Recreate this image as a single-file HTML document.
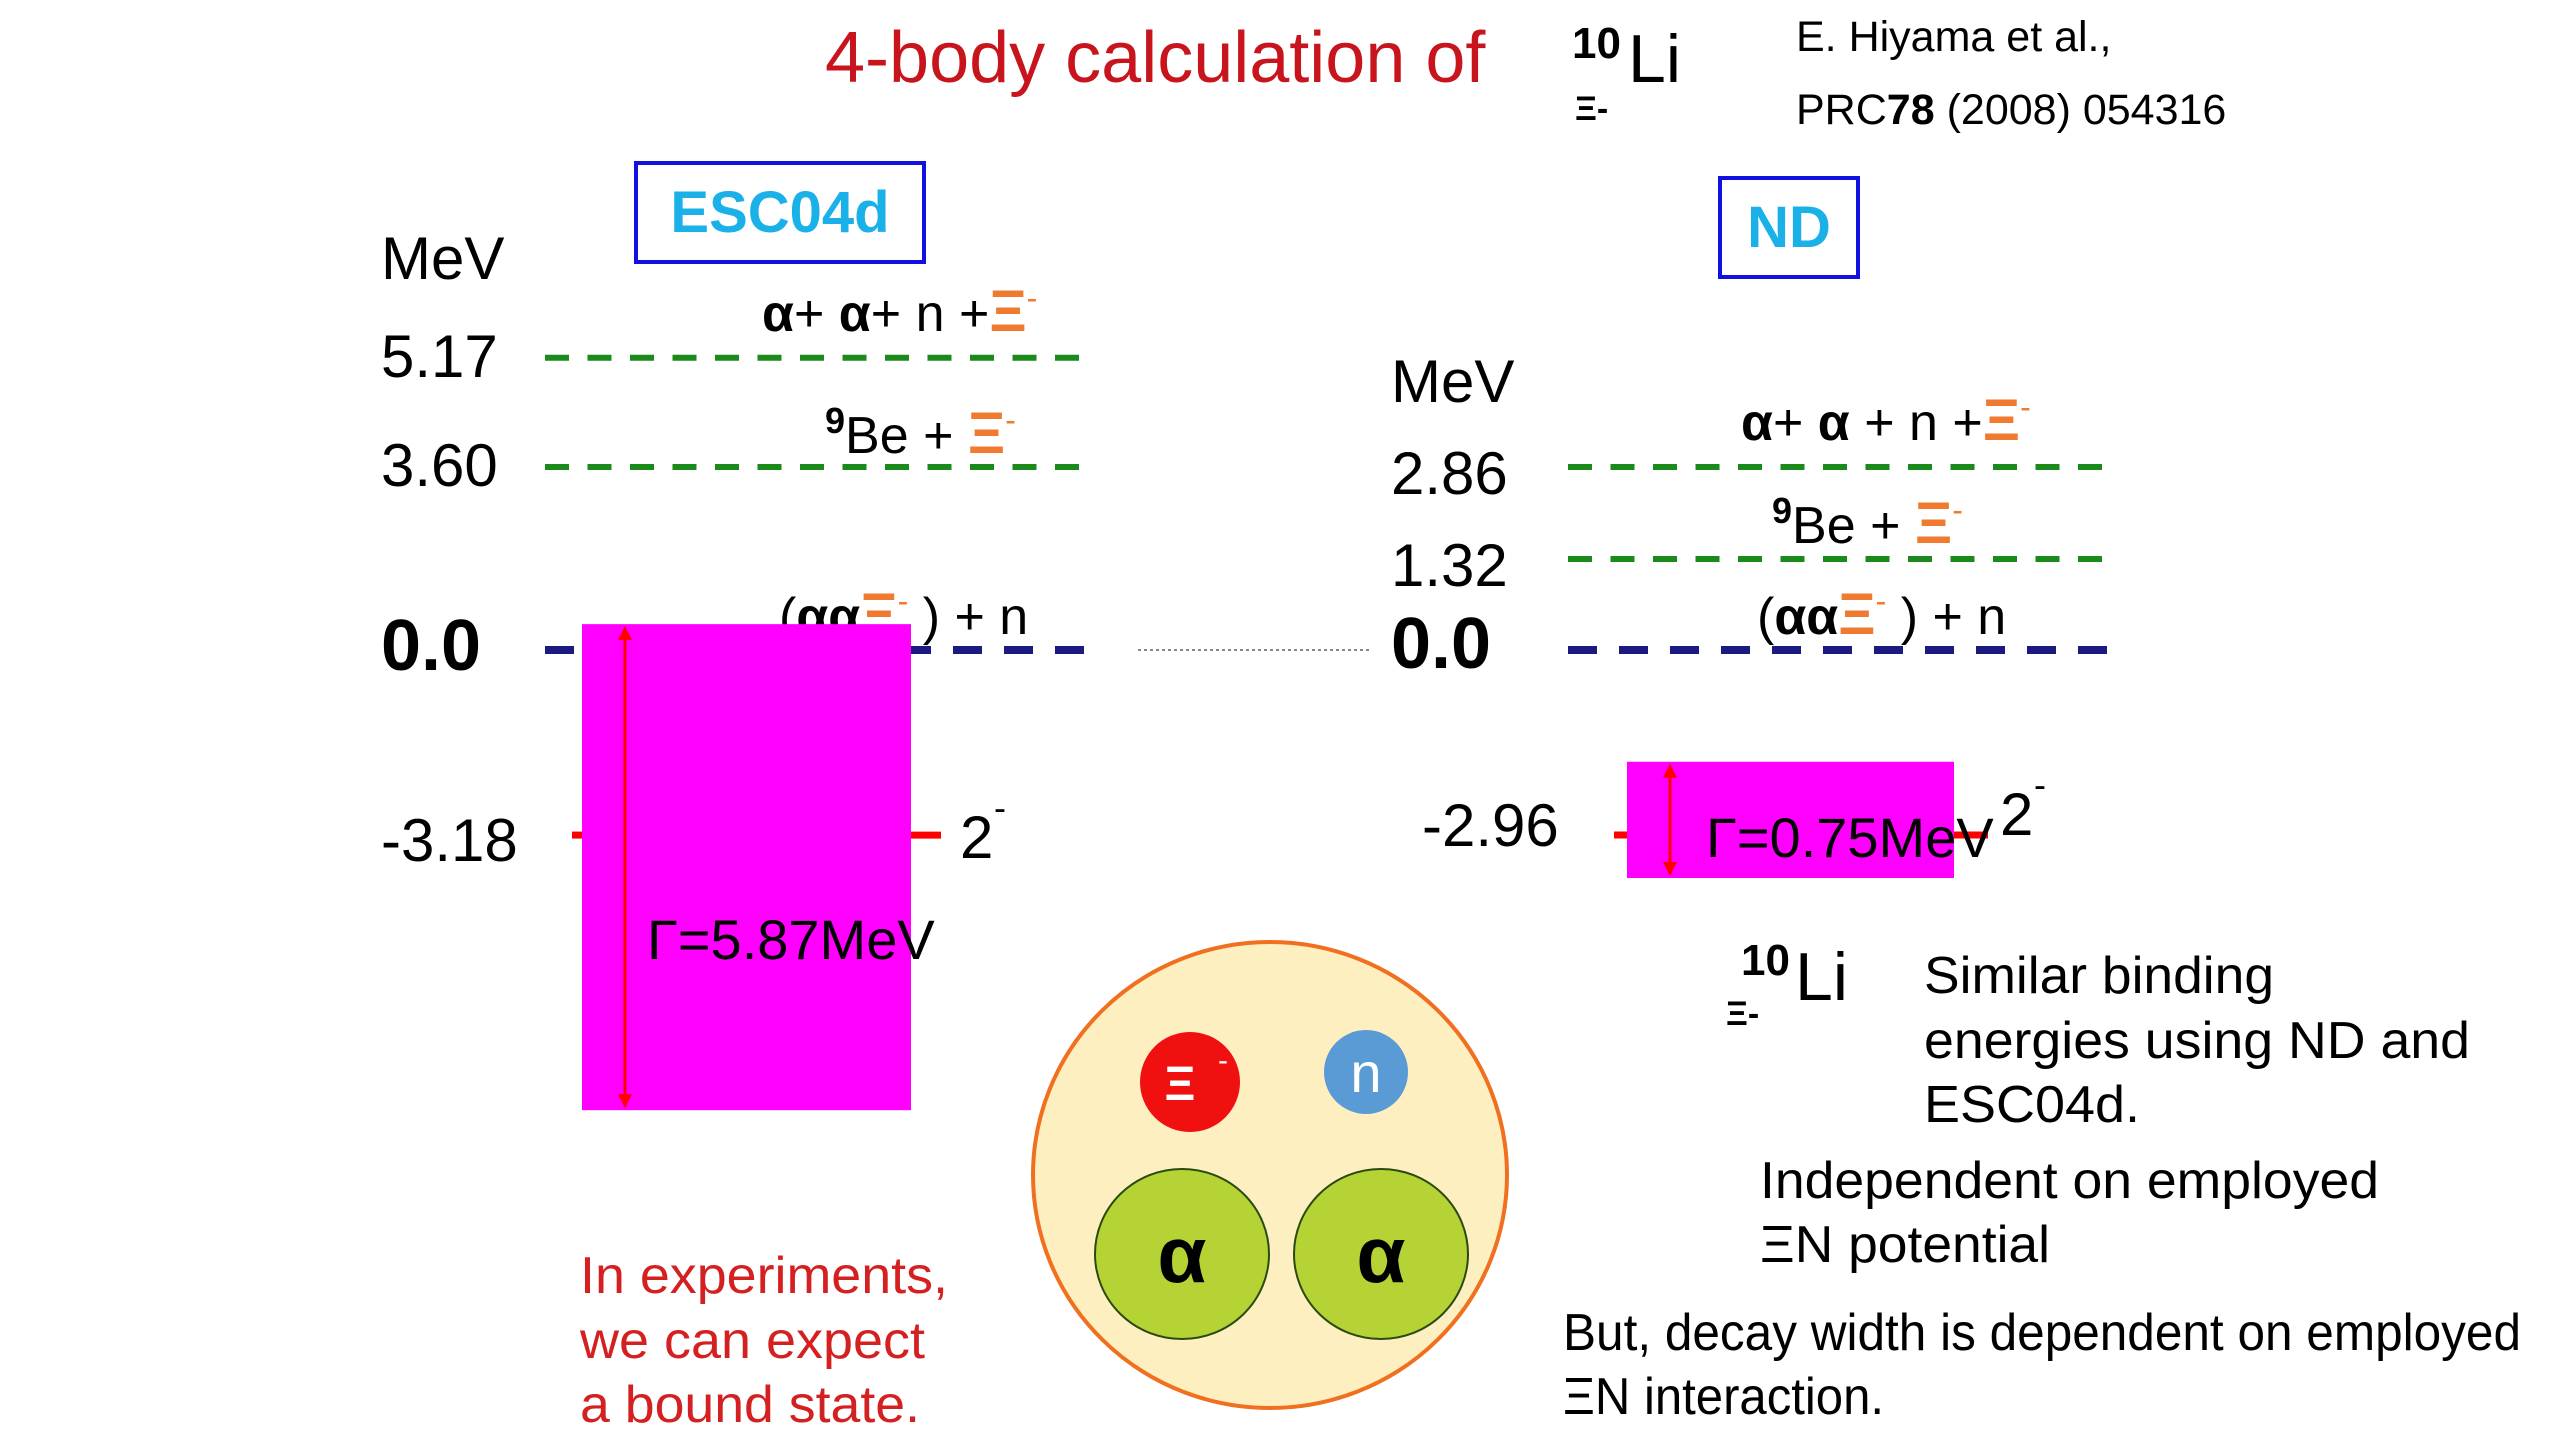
<!DOCTYPE html>
<html><head><meta charset="utf-8"><style>
html,body{margin:0;padding:0;background:#fff;}
svg{display:block;}
text{font-family:"Liberation Sans",sans-serif;}
</style></head><body>
<svg id="chart" width="2560" height="1440" viewBox="0 0 2560 1440" xmlns="http://www.w3.org/2000/svg">
<rect width="2560" height="1440" fill="#fff"/>
<text x="825" y="82" font-size="72" fill="#c8141c">4-body calculation of</text>
<g>
<text x="1572" y="58" font-size="44" font-weight="bold">10</text>
<text x="1628" y="82" font-size="68">Li</text>
<text x="1575" y="120" font-size="34" font-weight="bold">Ξ-</text>
</g>
<text x="1796" y="51" font-size="43">E. Hiyama et al.,</text>
<text x="1796" y="124" font-size="43">PRC<tspan font-weight="bold">78</tspan> (2008) 054316</text>
<rect x="636" y="163" width="288" height="99" fill="none" stroke="#1010e0" stroke-width="4"/>
<text x="780" y="232" font-size="58" font-weight="bold" fill="#1ab0e8" text-anchor="middle">ESC04d</text>
<rect x="1720" y="178" width="138" height="99" fill="none" stroke="#1010e0" stroke-width="4"/>
<text x="1789" y="247" font-size="58" font-weight="bold" fill="#1ab0e8" text-anchor="middle">ND</text>
<g id="back"></g>
<g id="bands"></g>
<g id="front"></g>
<line x1="1138" y1="650" x2="1370" y2="650" stroke="#888" stroke-width="2" stroke-dasharray="3,3"/>
<g>
<ellipse cx="1270" cy="1175" rx="237" ry="233" fill="#fdefc0" stroke="#f07020" stroke-width="4"/>
<circle cx="1190" cy="1082" r="50" fill="#f01010"/>
<text x="1180" y="1100" font-size="48" font-weight="bold" fill="#fff" text-anchor="middle">Ξ</text>
<text x="1218" y="1070" font-size="30" fill="#fff">-</text>
<circle cx="1366" cy="1072" r="42" fill="#5b9bd5"/>
<text x="1366" y="1092" font-size="56" fill="#fff" text-anchor="middle">n</text>
<ellipse cx="1182" cy="1254" rx="87" ry="85" fill="#b5d334" stroke="#2a4a10" stroke-width="2"/>
<text x="1182" y="1282" font-size="80" font-weight="bold" text-anchor="middle">α</text>
<ellipse cx="1381" cy="1254" rx="87" ry="85" fill="#b5d334" stroke="#2a4a10" stroke-width="2"/>
<text x="1381" y="1282" font-size="80" font-weight="bold" text-anchor="middle">α</text>
</g>
<g fill="#d42020" font-size="52">
<text x="580" y="1293" textLength="368" lengthAdjust="spacingAndGlyphs">In experiments,</text>
<text x="580" y="1358" textLength="345" lengthAdjust="spacingAndGlyphs">we can expect</text>
<text x="580" y="1422" textLength="340" lengthAdjust="spacingAndGlyphs">a bound state.</text>
</g>
<g>
<text x="1741" y="975" font-size="44" font-weight="bold">10</text>
<text x="1795" y="1000" font-size="68">Li</text>
<text x="1726" y="1025" font-size="34" font-weight="bold">Ξ-</text>
</g>
<g font-size="52">
<text x="1924" y="993" textLength="350" lengthAdjust="spacingAndGlyphs">Similar binding</text>
<text x="1924" y="1058" textLength="546" lengthAdjust="spacingAndGlyphs">energies using ND and</text>
<text x="1924" y="1122" textLength="216" lengthAdjust="spacingAndGlyphs">ESC04d.</text>
<text x="1760" y="1198" textLength="619" lengthAdjust="spacingAndGlyphs">Independent on employed</text>
<text x="1760" y="1262" textLength="290" lengthAdjust="spacingAndGlyphs">ΞN potential</text>
<text x="1563" y="1350" textLength="958" lengthAdjust="spacingAndGlyphs">But, decay width is dependent on employed</text>
<text x="1563" y="1414" textLength="321" lengthAdjust="spacingAndGlyphs">ΞN interaction.</text>
</g>
</svg>
<script>
// Energies (MeV)
var escThresholds = [5.17, 3.60, 0.0];
var ndThresholds = [2.86, 1.32, 0.0];
var escThresholdLabels = ["5.17", "3.60", "0.0"];
var ndThresholdLabels = ["2.86", "1.32", "0.0"];
var escState = [-3.18];
var ndState = [-2.96];
var escWidth = [5.87];
var ndWidth = [0.75];
var stateLabels = ["-3.18", "-2.96"];

var NS = "http://www.w3.org/2000/svg";
var back = document.getElementById('back');
var bands = document.getElementById('bands');
var front = document.getElementById('front');
// schematic (piecewise-linear) energy axes for each panel
function piecewise(dom, rng){
  return function(e){
    for (var i=0;i<dom.length-1;i++){
      if (e<=dom[i+1] || i===dom.length-2){
        return rng[i] + (e-dom[i])*(rng[i+1]-rng[i])/(dom[i+1]-dom[i]);
      }
    }
  };
}
var yEsc = piecewise([-5, 0, 3.6, 6], [941, 650, 467, 300]);
var yNd = piecewise([-5, 0, 1.32, 4], [962.5, 650, 559, 399]);
function mk(tag, attrs, parent){ var el=document.createElementNS(NS,tag); for(var k in attrs) el.setAttribute(k,attrs[k]); parent.appendChild(el); return el; }

function panel(th, thLabels, state, width, stateLabel, yf, o){
  var ax = mk('text',{x:o.axX,y:o.mevY,'font-size':60}, back);
  ax.textContent='MeV';
  
  
  for (var i=0;i<th.length;i++){
    var y=yf(th[i]);
    var zero = th[i]===0;
    var ln = mk('line',{x1:o.x1,x2:zero?o.x2+12:o.x2,y1:y,y2:y,stroke:zero?'#1a1a80':'#1a8a1a','stroke-width':zero?8:6,'stroke-dasharray':zero?'29,22':'24,18.5'}, back);
    
    
    var t = mk('text',{x:o.axX,y:y+(zero?o.zeroOff:o.numOff),'font-size':zero?72:60,'font-weight':zero?'bold':'normal'}, back);
    t.textContent=thLabels[i];
    
    
  }
  var ys=yf(state[0]);
  var h = width[0]*o.wScale;
  var top = ys - h*o.topFrac;
  var r = mk('rect',{x:o.bx,y:top,width:o.bw,height:h,fill:'#ff00ff'}, bands);
  
  
  var tl = mk('line',{x1:o.bx-o.tickL,x2:o.bx,y1:ys,y2:ys,stroke:'#f00','stroke-width':7}, front);
  
  
  var tk = mk('line',{x1:o.bx+o.bw,x2:o.bx+o.bw+o.tickR,y1:ys,y2:ys,stroke:'#f00','stroke-width':7}, front);
  
  
  var ar = mk('line',{x1:o.arX,x2:o.arX,y1:top+4,y2:top+h-4,stroke:'#f00','stroke-width':3}, front);
  
  
  mk('path',{d:'M'+(o.arX-7)+' '+(top+16)+' L'+o.arX+' '+(top+2)+' L'+(o.arX+7)+' '+(top+16)+'Z',fill:'#f00'}, front);
  mk('path',{d:'M'+(o.arX-7)+' '+(top+h-16)+' L'+o.arX+' '+(top+h-2)+' L'+(o.arX+7)+' '+(top+h-16)+'Z',fill:'#f00'}, front);
  var sl = mk('text',{x:o.slX,y:ys+o.slOff,'font-size':60}, front);
  sl.textContent=stateLabel;
  
  
  var wl = mk('text',{x:o.wlX,y:ys+o.wlOff,'font-size':56}, front);
  wl.textContent='Γ='+width[0].toFixed(2)+'MeV';
  
  
  var jp = mk('text',{x:o.jpX,y:ys+o.jpOff,'font-size':60}, front);
  jp.textContent='2';
  
  
  mk('text',{x:o.jpX+34,y:ys+o.jpOff-38,'font-size':36}, front).textContent='-';
}

panel(escThresholds, escThresholdLabels, escState, escWidth, stateLabels[0], yEsc,
 {axX:381,mevY:279,x1:545,x2:1081,numOff:19,zeroOff:20,bx:582,bw:329,wScale:82.8,topFrac:0.434,arX:625,tickL:10,tickR:30,slX:381,slOff:26,wlX:647,wlOff:124,jpX:960,jpOff:23});
panel(ndThresholds, ndThresholdLabels, ndState, ndWidth, stateLabels[1], yNd,
 {axX:1391,mevY:402,x1:1568,x2:2104,numOff:27,zeroOff:18,bx:1627,bw:327,wScale:155,topFrac:0.63,arX:1670,tickL:13,tickR:34,slX:1422,slOff:11,wlX:1706,wlOff:22,jpX:2000,jpOff:0});

// threshold channel labels
function chan(x,y,parts){
  var t=mk('text',{x:x,y:y,'font-size':52}, back);
  
  
  parts.forEach(function(p){ var s=document.createElementNS(NS,'tspan'); for(var k in p.a) s.setAttribute(k,p.a[k]); s.textContent=p.t; t.appendChild(s); });
}
var O='#f07a30';
var XI = {fill:O,'font-weight':'bold','font-size':58};
chan(762,331,[{t:'α',a:{'font-weight':'bold'}},{t:'+ ',a:{}},{t:'α',a:{'font-weight':'bold'}},{t:'+ n +',a:{}},{t:'Ξ',a:XI},{t:'-',a:{fill:O,dy:-22,'font-size':32}}]);
chan(825,453,[{t:'9',a:{dy:-20,'font-size':36,'font-weight':'bold'}},{t:'Be + ',a:{dy:20}},{t:'Ξ',a:XI},{t:'-',a:{fill:O,dy:-22,'font-size':32}}]);
chan(1741,440,[{t:'α',a:{'font-weight':'bold'}},{t:'+ ',a:{}},{t:'α',a:{'font-weight':'bold'}},{t:' + n +',a:{}},{t:'Ξ',a:XI},{t:'-',a:{fill:O,dy:-22,'font-size':32}}]);
chan(1772,543,[{t:'9',a:{dy:-20,'font-size':36,'font-weight':'bold'}},{t:'Be + ',a:{dy:20}},{t:'Ξ',a:XI},{t:'-',a:{fill:O,dy:-22,'font-size':32}}]);
chan(1757,634,[{t:'(',a:{}},{t:'αα',a:{'font-weight':'bold'}},{t:'Ξ',a:XI},{t:'-',a:{fill:O,dy:-22,'font-size':32}},{t:' ) + n',a:{dy:22}}]);
chan(779,634,[{t:'(',a:{}},{t:'αα',a:{'font-weight':'bold'}},{t:'Ξ',a:XI},{t:'-',a:{fill:O,dy:-22,'font-size':32}},{t:' ) + n',a:{dy:22}}]);
</script>
</body></html>
